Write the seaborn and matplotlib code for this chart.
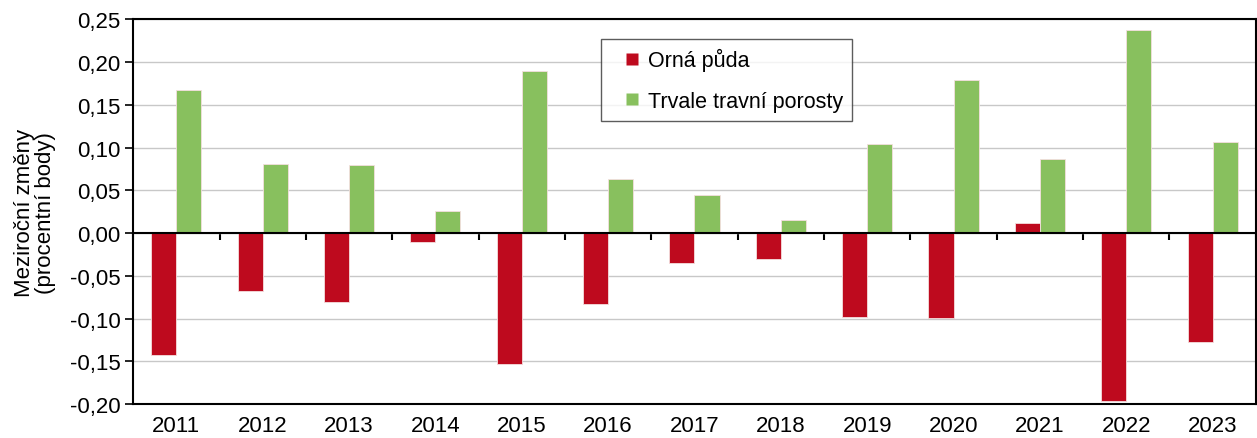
import numpy as np
import pandas as pd
import seaborn as sns
import matplotlib.pyplot as plt
from matplotlib.lines import Line2D
from matplotlib.ticker import FuncFormatter, MultipleLocator

years = ["2011", "2012", "2013", "2014", "2015", "2016", "2017",
         "2018", "2019", "2020", "2021", "2022", "2023"]
orna_puda = [-0.143, -0.068, -0.081, -0.011, -0.153, -0.083, -0.035,
             -0.030, -0.098, -0.099, 0.012, -0.196, -0.127]
ttp = [0.167, 0.081, 0.079, 0.026, 0.190, 0.063, 0.045,
       0.015, 0.104, 0.179, 0.087, 0.237, 0.107]
series_names = ["Orná půda", "Trvale travní porosty"]
colors = ["#BE0A1E", "#88C05E"]

df = pd.DataFrame({
    "rok": years * 2,
    "typ": [series_names[0]] * len(years) + [series_names[1]] * len(years),
    "hodnota": orna_puda + ttp,
})

sns.set_style("white")
plt.rcParams["font.family"] = ["Liberation Sans", "DejaVu Sans"]
plt.rcParams["font.size"] = 16
plt.rcParams["text.color"] = "black"
plt.rcParams["axes.labelcolor"] = "black"
plt.rcParams["xtick.color"] = "black"
plt.rcParams["ytick.color"] = "black"

fig, ax = plt.subplots(figsize=(12.57, 4.39), dpi=100)
fig.subplots_adjust(left=0.106, right=0.999, bottom=0.077, top=0.954)

sns.barplot(data=df, x="rok", y="hodnota", hue="typ", palette=colors,
            saturation=1, width=0.58, errorbar=None, edgecolor="#f4dede",
            linewidth=0.6, ax=ax, zorder=3, legend=False)

ax.set_xlim(-0.5, len(years) - 0.5)
ax.set_ylim(-0.20, 0.25)
ax.yaxis.set_major_locator(MultipleLocator(0.05))
ax.yaxis.set_major_formatter(FuncFormatter(lambda v, p: f"{v:.2f}".replace(".", ",")))
ax.grid(axis="y", color="#c8c8c8", linewidth=1.0, zorder=0)
ax.set_axisbelow(True)

for s in ax.spines.values():
    s.set_color("black")
    s.set_linewidth(1.5)

ax.tick_params(axis="y", direction="out", length=6, width=1.2, left=True,
               labelsize=16, pad=3)
ax.tick_params(axis="x", length=0, labelsize=16, pad=8)
ax.set_xlabel("")
ax.set_ylabel("Meziroční změny\n(procentní body)", fontsize=16, labelpad=10,
              linespacing=1.0)

# zero line with category ticks
ax.axhline(0, color="black", linewidth=1.5, zorder=4)
zero_pos = (0 - ax.get_ylim()[0]) / (ax.get_ylim()[1] - ax.get_ylim()[0])
sec = ax.secondary_xaxis(zero_pos)
sec.spines["bottom"].set_visible(False)
sec.set_xticks(np.arange(len(years) + 1) - 0.5)
sec.tick_params(axis="x", direction="out", length=5, width=1.5, labelbottom=False,
                color="black")

handles = [Line2D([], [], linestyle="none", marker="s", markersize=8,
                  markerfacecolor=c, markeredgecolor="none") for c in colors]
leg = ax.legend(handles, series_names, loc="upper left",
                bbox_to_anchor=(0.417, 0.948), frameon=True,
                fancybox=False, edgecolor="#333333", fontsize=15.5,
                handlelength=1.98, handletextpad=-0.24,
                labelspacing=0.9, borderpad=0.42, borderaxespad=0)
leg.get_frame().set_linewidth(1.0)

fig.savefig("out.png", dpi=100)
